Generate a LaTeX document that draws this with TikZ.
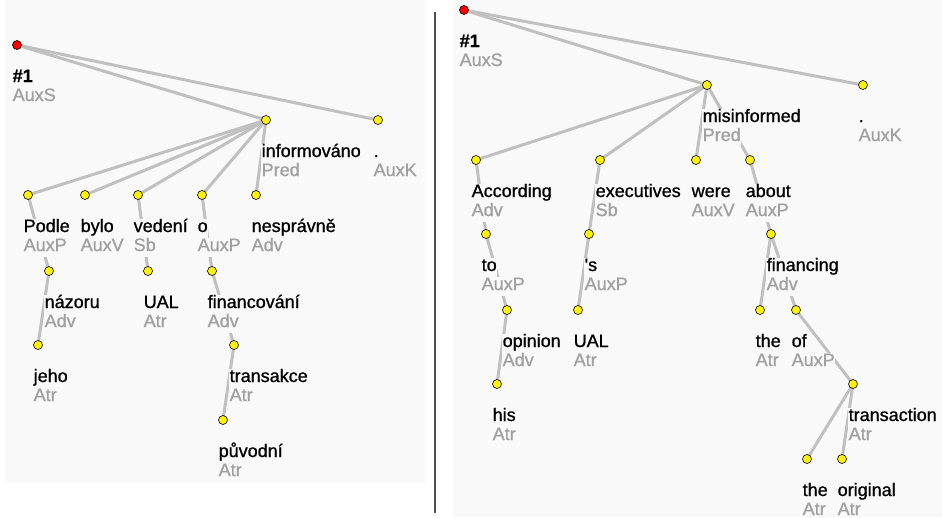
\documentclass[tikz,border=0pt]{standalone}
\usepackage{fontspec}
\setmainfont{Liberation Sans}
\newfontfamily\treefont{Liberation Sans}[FakeBold=0.9]

\pgfdeclarelayer{panel}
\pgfdeclarelayer{edges}
\pgfsetlayers{panel,edges,main}

\definecolor{paper}{RGB}{249,249,249}
\definecolor{edgegray}{RGB}{192,192,192}
\definecolor{funcgray}{RGB}{160,160,160}
\definecolor{sepgray}{RGB}{80,80,80}

\tikzset{
  treenode/.style={circle, draw=black, line width=0.6pt, fill=yellow,
    inner sep=0pt, minimum size=9pt},
  rootnode/.style={treenode, fill=red},
  wordtext/.style={anchor=base west, fill=paper, inner xsep=0.5pt,
    inner ysep=0pt, text height=13.5pt, text depth=6pt,
    font=\treefont\fontsize{18}{19}\selectfont, text=black},
  functext/.style={wordtext, text=funcgray},
  treeedge/.style={draw=edgegray, line width=3pt},
}

% dot, word form below it, and analytical function below the word
\newcommand\placenode[6][treenode]{%
  \node[#1] (#2) at (#3,#4) {};
  \node[wordtext] (#2-w) at (#3-5,#4+37) {#5};
  \node[functext] (#2-f) at (#3-5,#4+56) {#6};
}

\begin{document}
\begin{tikzpicture}[x=1pt,y=-1pt]
\useasboundingbox (0,0) rectangle (942,517);

\begin{pgfonlayer}{panel}
  \fill[white] (0,0) rectangle (942,517);
  \fill[paper] (5,0) rectangle (425,483);
  \fill[paper] (453,0) rectangle (942,517);
  \draw[sepgray, line width=1.5pt] (435,12) -- (435,513);
\end{pgfonlayer}

% ---- Czech sentence ----
\placenode[rootnode]{rootL}{17}{45}{\bfseries\#1}{AuxS}
\placenode{infL}{266}{120}{informováno}{Pred}
\placenode{dotL}{378}{120}{.}{AuxK}
\placenode{podle}{28}{195}{Podle}{AuxP}
\placenode{bylo}{85}{195}{bylo}{AuxV}
\placenode{vedeni}{138}{195}{vedení}{Sb}
\placenode{o}{202}{195}{o}{AuxP}
\placenode{nespravne}{256}{195}{nesprávně}{Adv}
\placenode{nazoru}{49}{271}{názoru}{Adv}
\placenode{ualL}{148}{271}{UAL}{Atr}
\placenode{financovani}{212}{271}{financování}{Adv}
\placenode{jeho}{38}{345}{jeho}{Atr}
\placenode{transakce}{234}{345}{transakce}{Atr}
\placenode{puvodni}{223}{420}{původní}{Atr}

% ---- English sentence ----
\placenode[rootnode]{rootR}{464}{10}{\bfseries\#1}{AuxS}
\placenode{misinf}{707}{85}{misinformed}{Pred}
\placenode{dotR}{863}{85}{.}{AuxK}
\placenode{according}{476}{160}{According}{Adv}
\placenode{executives}{600}{160}{executives}{Sb}
\placenode{were}{696}{160}{were}{AuxV}
\placenode{about}{750}{160}{about}{AuxP}
\placenode{to}{486}{234}{to}{AuxP}
\placenode{poss}{589}{234}{\textquotesingle s}{AuxP}
\placenode{financing}{771}{234}{financing}{Adv}
\placenode{opinion}{507}{310}{opinion}{Adv}
\placenode{ualR}{578}{310}{UAL}{Atr}
\placenode{theA}{760}{310}{the}{Atr}
\placenode{of}{796}{310}{of}{AuxP}
\placenode{his}{497}{384}{his}{Atr}
\placenode{transaction}{853}{384}{transaction}{Atr}
\placenode{theB}{807}{459}{the}{Atr}
\placenode{original}{842}{459}{original}{Atr}

\begin{pgfonlayer}{edges}
  \draw[treeedge] (rootL.center) -- (infL.center);
  \draw[treeedge] (rootL.center) -- (dotL.center);
  \foreach \c in {podle,bylo,vedeni,o,nespravne}
    \draw[treeedge] (infL.center) -- (\c.center);
  \draw[treeedge] (podle.center) -- (nazoru.center);
  \draw[treeedge] (nazoru.center) -- (jeho.center);
  \draw[treeedge] (vedeni.center) -- (ualL.center);
  \draw[treeedge] (o.center) -- (financovani.center);
  \draw[treeedge] (financovani.center) -- (transakce.center);
  \draw[treeedge] (transakce.center) -- (puvodni.center);

  \draw[treeedge] (rootR.center) -- (misinf.center);
  \draw[treeedge] (rootR.center) -- (dotR.center);
  \foreach \c in {according,executives,were,about}
    \draw[treeedge] (misinf.center) -- (\c.center);
  \draw[treeedge] (according.center) -- (to.center);
  \draw[treeedge] (to.center) -- (opinion.center);
  \draw[treeedge] (opinion.center) -- (his.center);
  \draw[treeedge] (executives.center) -- (poss.center);
  \draw[treeedge] (poss.center) -- (ualR.center);
  \draw[treeedge] (about.center) -- (financing.center);
  \draw[treeedge] (financing.center) -- (theA.center);
  \draw[treeedge] (financing.center) -- (of.center);
  \draw[treeedge] (of.center) -- (transaction.center);
  \draw[treeedge] (transaction.center) -- (theB.center);
  \draw[treeedge] (transaction.center) -- (original.center);
\end{pgfonlayer}
\end{tikzpicture}
\end{document}
